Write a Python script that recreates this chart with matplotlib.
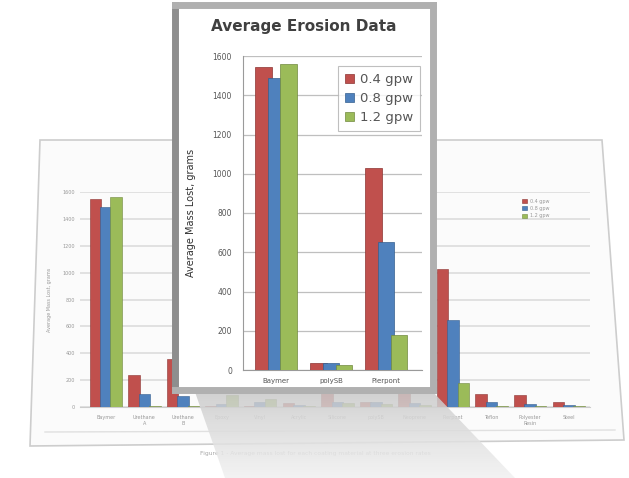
import numpy as np
import matplotlib.pyplot as plt
from matplotlib.patches import Polygon

W, H = 629, 478

# background sheet chart (13 coatings)
materials = ["Baymer", "Urethane\nA", "Urethane\nB", "Epoxy", "Vinyl", "Acrylic",
             "Silicone", "polySB", "Neoprene", "Pierpont", "Teflon",
             "Polyester\nResin", "Steel"]
mass_04 = [1545, 235, 355, 10, 10, 30, 250, 35, 180, 1030, 100, 90, 35]
mass_08 = [1490, 100, 85, 25, 40, 15, 40, 35, 30, 650, 35, 25, 15]
mass_12 = [1560, 10, 10, 90, 60, 10, 30, 25, 15, 180, 10, 10, 5]
series_labels = ["0.4 gpw", "0.8 gpw", "1.2 gpw"]
colors = ["#C0504D", "#4F81BD", "#9BBB59"]
edges = ["#8c3432", "#355f8f", "#71893f"]

# the three shown in the front chart
inset_idx = [0, 7, 9]
y_ticks = list(range(0, 1601, 200))


def px_axes(x0, y0, x1, y1, **kw):
    return fig.add_axes([x0 / W, 1 - y1 / H, (x1 - x0) / W, (y1 - y0) / H], **kw)


fig = plt.figure(figsize=(W / 100, H / 100), dpi=100)
fig.patch.set_facecolor("white")

# page / sheet behind
over = px_axes(0, 0, W, H, zorder=0)
over.set_xlim(0, W)
over.set_ylim(H, 0)
over.axis("off")
sheet = Polygon([(40, 140), (602, 140), (624, 440), (30, 446)], closed=True,
                facecolor="#fbfbfb", edgecolor="#cdcdcd", lw=1.2)
over.add_patch(sheet)
over.plot([45, 615], [432, 430], color="#e0e0e0", lw=1)
over.text(315, 453, "Figure 1 - Average mass lost for each coating material at three erosion rates",
          ha="center", va="center", fontsize=4.3, color="#a8a8a8")

# background chart
series = [mass_04, mass_08, mass_12]
bg = px_axes(80, 192, 590, 407, zorder=1)
bg.patch.set_alpha(0)
x = np.arange(len(materials))
for k, vals in enumerate(series):
    bg.bar(x + (k - 1) * 0.27, vals, width=0.3, color=colors[k], edgecolor=edges[k],
           lw=0.4, label=series_labels[k], zorder=3)
bg.set_xlim(-0.67, 12.55)
bg.set_ylim(0, 1600)
bg.set_yticks(y_ticks)
bg.set_xticks(x)
bg.set_xticklabels(materials, fontsize=3.5, color="#999999")
bg.tick_params(axis="y", labelsize=3.5, labelcolor="#999999", length=0)
bg.tick_params(axis="x", length=0, pad=6)
bg.grid(axis="y", color="#dcdcdc", lw=1.2)
bg.set_axisbelow(True)
for s in bg.spines.values():
    s.set_visible(False)
bg.spines["bottom"].set_visible(True)
bg.spines["bottom"].set_color("#cccccc")
bg.set_ylabel("Average Mass Lost, grams", fontsize=3.5, color="#999999", labelpad=8)
bg.legend(loc="upper right", bbox_to_anchor=(0.93, 0.99), fontsize=3.5, frameon=False,
          handlelength=1, handleheight=0.8, labelcolor="#999999")

# shadow thrown by the front chart
sh = px_axes(0, 0, W, H, zorder=2)
sh.set_xlim(0, W)
sh.set_ylim(H, 0)
sh.axis("off")
grad = np.linspace(0.32, 0.12, 100).reshape(-1, 1)
img = sh.imshow(grad, cmap="Greys", vmin=0, vmax=1, extent=(150, 540, 478, 392),
                aspect="auto", alpha=0.85)
shadow = Polygon([(195, 392), (433, 392), (515, 478), (225, 478)], closed=True,
                 transform=sh.transData)
img.set_clip_path(shadow)

# frame of the front chart
frame = px_axes(175, 5, 433, 390, zorder=3)
frame.set_xticks([])
frame.set_yticks([])
frame.set_facecolor("white")
for name, s in frame.spines.items():
    s.set_linewidth(5)
    s.set_color("#b0b0b0")
frame.spines["left"].set_color("#8e8e8e")
frame.text(0.5, 0.943, "Average Erosion Data", transform=frame.transAxes, ha="center",
           va="center", fontsize=11, fontweight="bold", color="#404040")

# front chart
ins = px_axes(243, 56, 422, 370, zorder=4)
ins.patch.set_alpha(0)
xi = np.arange(len(inset_idx))
for k, vals in enumerate(series):
    ins.bar(xi + (k - 1) * 0.23, [vals[i] for i in inset_idx], width=0.3,
            color=colors[k], edgecolor=edges[k], lw=0.5, label=series_labels[k], zorder=3)
ins.set_xlim(-0.6, 2.65)
ins.set_ylim(0, 1600)
ins.set_yticks(y_ticks)
ins.set_xticks(xi)
ins.set_xticklabels([materials[i] for i in inset_idx], fontsize=5, color="#555555")
ins.tick_params(axis="y", labelsize=5.5, labelcolor="#555555", length=0, pad=8)
ins.tick_params(axis="x", length=0, pad=6)
ins.grid(axis="y", color="#bfbfbf", lw=0.9)
ins.set_axisbelow(True)
for s in ins.spines.values():
    s.set_visible(False)
ins.spines["left"].set_visible(True)
ins.spines["left"].set_color("#9a9a9a")
ins.spines["bottom"].set_visible(True)
ins.spines["bottom"].set_color("#9a9a9a")
ins.set_ylabel("Average Mass Lost, grams", fontsize=7, color="#333333", labelpad=12)
leg = ins.legend(loc="upper right", bbox_to_anchor=(0.99, 0.968), borderaxespad=0,
                 fontsize=9.5, handlelength=0.7, handleheight=0.7, handletextpad=0.4,
                 borderpad=0.55, labelspacing=0.45, fancybox=False, labelcolor="#555555")
leg.get_frame().set_edgecolor("#b0b0b0")
leg.get_frame().set_linewidth(0.8)

fig.savefig("out.png", dpi=100)
